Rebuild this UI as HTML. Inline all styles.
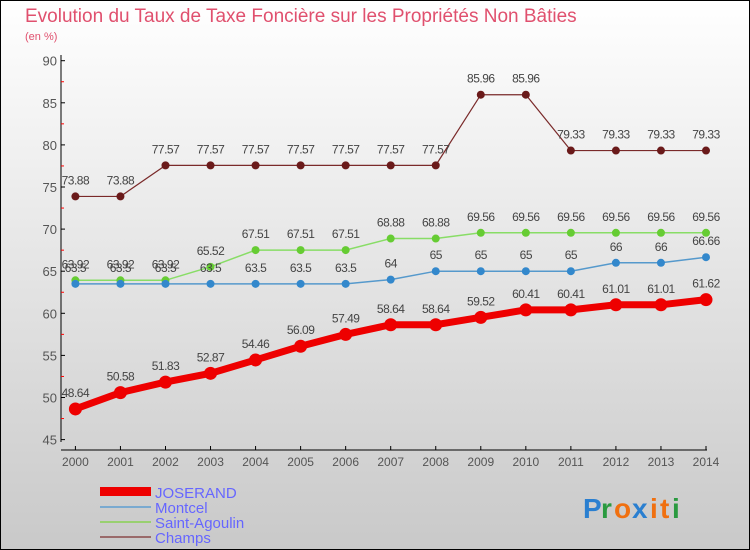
<!DOCTYPE html>
<html><head><meta charset="utf-8"><style>
body{margin:0}
#c{width:750px;height:550px;position:relative;background:linear-gradient(#fff,#c9c9c9);font-family:"Liberation Sans",sans-serif;box-sizing:border-box;border:1px solid #000;overflow:hidden}
</style></head><body>
<div id="c">
<svg id="s" width="750" height="550" style="position:absolute;left:-1px;top:-1px">
<text x="25" y="22" font-size="19" fill="#e0506e">Evolution du Taux de Taxe Foncière sur les Propriétés Non Bâties</text>
<text x="25" y="40" font-size="11" fill="#e0506e">(en %)</text>
<g id="g"></g>
<g>
<rect x="100" y="487" width="51" height="9" fill="#e00"/>
<text x="155" y="498" font-size="15" fill="#6666ff">JOSERAND</text>
<line x1="100" y1="507" x2="151" y2="507" stroke="#7aaad0" stroke-width="2"/>
<text x="155" y="513" font-size="15" fill="#6666ff">Montcel</text>
<line x1="100" y1="522" x2="151" y2="522" stroke="#99d070" stroke-width="2"/>
<text x="155" y="528" font-size="15" fill="#6666ff">Saint-Agoulin</text>
<line x1="100" y1="537" x2="151" y2="537" stroke="#9a6a6a" stroke-width="2"/>
<text x="155" y="543" font-size="15" fill="#6666ff">Champs</text>
</g>
<g font-size="28" font-weight="bold">
<text x="583" y="518" fill="#2a7fd0">P</text><text x="601" y="518" fill="#2a9a40">r</text><text x="614" y="518" fill="#f07010">o</text><text x="632" y="518" fill="#2a7fd0">x</text><text x="650" y="518" fill="#f07010">i</text><text x="660" y="518" fill="#f07010">t</text><text x="672" y="518" fill="#2a9a40">i</text>
</g>
</svg>
</div>
<script>
const years=[2000,2001,2002,2003,2004,2005,2006,2007,2008,2009,2010,2011,2012,2013,2014];
const joserand=[48.64,50.58,51.83,52.87,54.46,56.09,57.49,58.64,58.64,59.52,60.41,60.41,61.01,61.01,61.62];
const montcel=[63.5,63.5,63.5,63.5,63.5,63.5,63.5,64,65,65,65,65,66,66,66.66];
const saintAgoulin=[63.92,63.92,63.92,65.52,67.51,67.51,67.51,68.88,68.88,69.56,69.56,69.56,69.56,69.56,69.56];
const champs=[73.88,73.88,77.57,77.57,77.57,77.57,77.57,77.57,77.57,85.96,85.96,79.33,79.33,79.33,79.33];
const yTicks=[45,50,55,60,65,70,75,80,85,90];
const NS='http://www.w3.org/2000/svg';
const g=document.getElementById('g');
const X=i=>75.4+(706-75.4)*i/(years.length-1);
const Y=v=>439.6-(v-45)*(439.6-60.7)/45;
function el(t,a,p){const e=document.createElementNS(NS,t);for(const k in a)e.setAttribute(k,a[k]);(p||g).appendChild(e);return e;}
let ax=el('line',{x1:61,y1:55,x2:61,y2:442,stroke:'#000'});


let xa=el('line',{x1:61,y1:450,x2:707,y2:450,stroke:'#000'});


yTicks.forEach((v,i)=>{
 el('line',{x1:61,y1:Y(v),x2:65,y2:Y(v),stroke:'#000'});
 if(i<yTicks.length-1)el('line',{x1:61,y1:Y(v+2.5),x2:64,y2:Y(v+2.5),stroke:'#f00'});
 const t=el('text',{x:57,y:Y(v)+5,'font-size':13,fill:'#555','text-anchor':'end'});
 t.textContent=v;
 
 
});
years.forEach((yr,i)=>{
 el('line',{x1:X(i),y1:446,x2:X(i),y2:450,stroke:'#000'});
 const t=el('text',{x:X(i),y:466,'font-size':12,fill:'#555','text-anchor':'middle'});
 t.textContent=yr;
 
 
});
function series(d,col,dot,w,r,name){
 const p=el('polyline',{points:d.map((v,i)=>X(i)+','+Y(v)).join(' '),fill:'none',stroke:col,'stroke-width':w});
 
 
 d.forEach((v,i)=>{
  const c=el('circle',{cx:X(i),cy:Y(v),r:r,fill:dot});
  
  
  const t=el('text',{x:X(i),y:Y(v)-12,'font-size':12,fill:'#444','text-anchor':'middle','letter-spacing':'-0.5'});
  t.textContent=v;
  
  
 });
}
series(champs,'#7a2a2a','#6a1a1a',1.2,4,'champs');
series(saintAgoulin,'#88dd66','#66cc33',1.5,4,'saint-agoulin');
series(montcel,'#5599cc','#3388cc',1.5,4,'montcel');
series(joserand,'#ee0000','#ee0000',7,6.5,'joserand');
</script>
</body></html>
